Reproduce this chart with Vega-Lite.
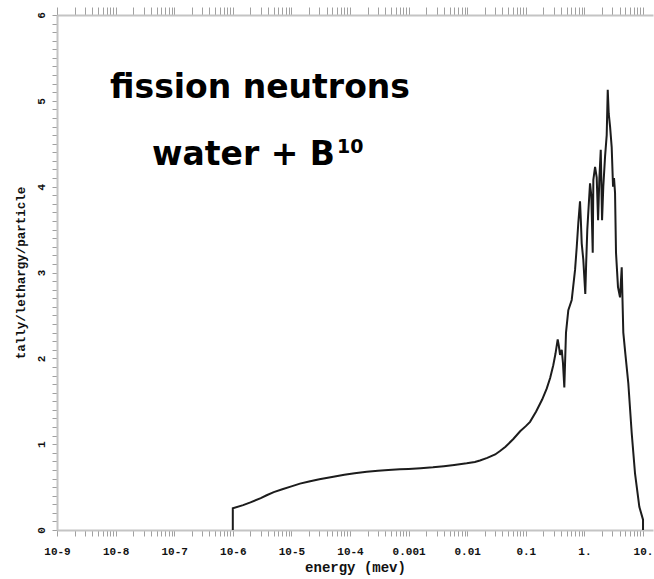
{
  "$schema": "https://vega.github.io/schema/vega-lite/v6.json",
  "width": 596,
  "height": 515,
  "autosize": {"type": "none"},
  "padding": {"left": 57, "top": 15, "right": 1, "bottom": 49},
  "background": "white",
  "config": {
    "view": {"stroke": null},
    "axis": {
      "domainColor": "#c4c4c4",
      "domainWidth": 2,
      "tickColor": "#a0a0a0",
      "tickWidth": 1,
      "grid": false,
      "labelFont": "Liberation Mono",
      "labelFontWeight": "bold",
      "labelFontSize": 11,
      "labelColor": "#111111",
      "titleFont": "Liberation Mono",
      "titleFontWeight": "bold",
      "titleColor": "#111111",
      "labelOverlap": false,
      "labelFlush": false
    },
    "axisY": {
      "labelAngle": 270,
      "labelPadding": 6,
      "tickSize": 5,
      "tickCount": 100,
      "titleFontSize": 12.5,
      "titlePadding": 8
    }
  },
  "datasets": {
    "spectrum": [
      {"i": 0, "energy": 1e-6, "tally": 0},
      {"i": 1, "energy": 1e-6, "tally": 0.253},
      {"i": 2, "energy": 1.5e-6, "tally": 0.29},
      {"i": 3, "energy": 2e-6, "tally": 0.322},
      {"i": 4, "energy": 3e-6, "tally": 0.372},
      {"i": 5, "energy": 3.78e-6, "tally": 0.405},
      {"i": 6, "energy": 5e-6, "tally": 0.442},
      {"i": 7, "energy": 7e-6, "tally": 0.474},
      {"i": 8, "energy": 1e-5, "tally": 0.508},
      {"i": 9, "energy": 1.4e-5, "tally": 0.54},
      {"i": 10, "energy": 2e-5, "tally": 0.566},
      {"i": 11, "energy": 3e-5, "tally": 0.592},
      {"i": 12, "energy": 5.2e-5, "tally": 0.621},
      {"i": 13, "energy": 8e-5, "tally": 0.644},
      {"i": 14, "energy": 1.2e-4, "tally": 0.661},
      {"i": 15, "energy": 1.93e-4, "tally": 0.679},
      {"i": 16, "energy": 3e-4, "tally": 0.69},
      {"i": 17, "energy": 4.5e-4, "tally": 0.699},
      {"i": 18, "energy": 7.1e-4, "tally": 0.707},
      {"i": 19, "energy": 1e-3, "tally": 0.712},
      {"i": 20, "energy": 1.6e-3, "tally": 0.72},
      {"i": 21, "energy": 2.6e-3, "tally": 0.73},
      {"i": 22, "energy": 4e-3, "tally": 0.744},
      {"i": 23, "energy": 6e-3, "tally": 0.758},
      {"i": 24, "energy": 9.8e-3, "tally": 0.777},
      {"i": 25, "energy": 0.0135, "tally": 0.792},
      {"i": 26, "energy": 0.0165, "tally": 0.81},
      {"i": 27, "energy": 0.022, "tally": 0.84},
      {"i": 28, "energy": 0.03, "tally": 0.88},
      {"i": 29, "energy": 0.0363, "tally": 0.92},
      {"i": 30, "energy": 0.045, "tally": 0.97},
      {"i": 31, "energy": 0.0612, "tally": 1.06},
      {"i": 32, "energy": 0.08, "tally": 1.15},
      {"i": 33, "energy": 0.1, "tally": 1.21},
      {"i": 34, "energy": 0.118, "tally": 1.26},
      {"i": 35, "energy": 0.15, "tally": 1.38},
      {"i": 36, "energy": 0.19, "tally": 1.52},
      {"i": 37, "energy": 0.228, "tally": 1.65},
      {"i": 38, "energy": 0.26, "tally": 1.77},
      {"i": 39, "energy": 0.294, "tally": 1.92},
      {"i": 40, "energy": 0.32, "tally": 2.05},
      {"i": 41, "energy": 0.35, "tally": 2.22},
      {"i": 42, "energy": 0.365, "tally": 2.15},
      {"i": 43, "energy": 0.384, "tally": 2.04},
      {"i": 44, "energy": 0.41, "tally": 2.1},
      {"i": 45, "energy": 0.43, "tally": 1.95},
      {"i": 46, "energy": 0.454, "tally": 1.66},
      {"i": 47, "energy": 0.47, "tally": 2.0},
      {"i": 48, "energy": 0.485, "tally": 2.3},
      {"i": 49, "energy": 0.531, "tally": 2.56},
      {"i": 50, "energy": 0.607, "tally": 2.68},
      {"i": 51, "energy": 0.692, "tally": 3.03},
      {"i": 52, "energy": 0.74, "tally": 3.3},
      {"i": 53, "energy": 0.787, "tally": 3.58},
      {"i": 54, "energy": 0.841, "tally": 3.83},
      {"i": 55, "energy": 0.87, "tally": 3.6},
      {"i": 56, "energy": 0.899, "tally": 3.34},
      {"i": 57, "energy": 0.957, "tally": 3.15},
      {"i": 58, "energy": 1.035, "tally": 2.75},
      {"i": 59, "energy": 1.07, "tally": 3.1},
      {"i": 60, "energy": 1.12, "tally": 3.5},
      {"i": 61, "energy": 1.2, "tally": 3.85},
      {"i": 62, "energy": 1.247, "tally": 4.04},
      {"i": 63, "energy": 1.31, "tally": 3.9},
      {"i": 64, "energy": 1.386, "tally": 3.23},
      {"i": 65, "energy": 1.42, "tally": 4.08},
      {"i": 66, "energy": 1.52, "tally": 4.23},
      {"i": 67, "energy": 1.62, "tally": 4.11},
      {"i": 68, "energy": 1.71, "tally": 3.61},
      {"i": 69, "energy": 1.8, "tally": 4.1},
      {"i": 70, "energy": 1.9, "tally": 4.43},
      {"i": 71, "energy": 2.0, "tally": 3.61},
      {"i": 72, "energy": 2.1, "tally": 4.0},
      {"i": 73, "energy": 2.25, "tally": 4.35},
      {"i": 74, "energy": 2.4, "tally": 4.6},
      {"i": 75, "energy": 2.5, "tally": 5.13},
      {"i": 76, "energy": 2.6, "tally": 4.85},
      {"i": 77, "energy": 2.74, "tally": 4.7},
      {"i": 78, "energy": 2.92, "tally": 4.46},
      {"i": 79, "energy": 3.08, "tally": 4.0},
      {"i": 80, "energy": 3.2, "tally": 4.1},
      {"i": 81, "energy": 3.33, "tally": 3.93},
      {"i": 82, "energy": 3.46, "tally": 3.23},
      {"i": 83, "energy": 3.74, "tally": 2.83},
      {"i": 84, "energy": 4.05, "tally": 2.71},
      {"i": 85, "energy": 4.33, "tally": 3.06},
      {"i": 86, "energy": 4.51, "tally": 2.56},
      {"i": 87, "energy": 4.61, "tally": 2.3},
      {"i": 88, "energy": 5.0, "tally": 2.05},
      {"i": 89, "energy": 5.61, "tally": 1.71},
      {"i": 90, "energy": 6.41, "tally": 1.13},
      {"i": 91, "energy": 7.3, "tally": 0.66},
      {"i": 92, "energy": 8.65, "tally": 0.27},
      {"i": 93, "energy": 10, "tally": 0.12},
      {"i": 94, "energy": 10, "tally": 0}
    ],
    "headline": [{"energy": 2.91e-6, "tally": 5.03, "text": "fission neutrons"}],
    "subline": [{"energy": 5.55e-5, "tally": 4.25, "text": "water + B"}],
    "superscript": [{"energy": 6.0e-5, "tally": 4.39, "text": "10"}]
  },
  "layer": [
    {
      "data": {"name": "spectrum"},
      "mark": {"type": "point", "opacity": 0},
      "encoding": {
        "x": {
          "field": "energy",
          "type": "quantitative",
          "scale": {"type": "log", "domain": [1e-9, 14.8], "nice": false},
          "axis": {
            "orient": "top",
            "title": null,
            "labels": false,
            "tickSize": 8,
            "tickCount": 200,
            "values": [1e-9, 2e-9, 3e-9, 4e-9, 5e-9, 6e-9, 7e-9, 8e-9, 9e-9,
                       1e-8, 2e-8, 3e-8, 4e-8, 5e-8, 6e-8, 7e-8, 8e-8, 9e-8,
                       1e-7, 2e-7, 3e-7, 4e-7, 5e-7, 6e-7, 7e-7, 8e-7, 9e-7,
                       1e-6, 2e-6, 3e-6, 4e-6, 5e-6, 6e-6, 7e-6, 8e-6, 9e-6,
                       1e-5, 2e-5, 3e-5, 4e-5, 5e-5, 6e-5, 7e-5, 8e-5, 9e-5,
                       1e-4, 2e-4, 3e-4, 4e-4, 5e-4, 6e-4, 7e-4, 8e-4, 9e-4,
                       1e-3, 2e-3, 3e-3, 4e-3, 5e-3, 6e-3, 7e-3, 8e-3, 9e-3,
                       0.01, 0.02, 0.03, 0.04, 0.05, 0.06, 0.07, 0.08, 0.09,
                       0.1, 0.2, 0.3, 0.4, 0.5, 0.6, 0.7, 0.8, 0.9,
                       1, 2, 3, 4, 5, 6, 7, 8, 9, 10]
          }
        },
        "y": {
          "field": "tally",
          "type": "quantitative",
          "scale": {"domain": [0, 6], "nice": false},
          "axis": {
            "orient": "left",
            "title": "tally/lethargy/particle",
            "tickCount": 100,
            "values": [0, 0.1, 0.2, 0.3, 0.4, 0.5, 0.6, 0.7, 0.8, 0.9,
                       1, 1.1, 1.2, 1.3, 1.4, 1.5, 1.6, 1.7, 1.8, 1.9,
                       2, 2.1, 2.2, 2.3, 2.4, 2.5, 2.6, 2.7, 2.8, 2.9,
                       3, 3.1, 3.2, 3.3, 3.4, 3.5, 3.6, 3.7, 3.8, 3.9,
                       4, 4.1, 4.2, 4.3, 4.4, 4.5, 4.6, 4.7, 4.8, 4.9,
                       5, 5.1, 5.2, 5.3, 5.4, 5.5, 5.6, 5.7, 5.8, 5.9, 6],
            "labelExpr": "abs(datum.value - round(datum.value)) < 0.001 ? format(datum.value, 'd') : ''"
          }
        }
      }
    },
    {
      "data": {"name": "spectrum"},
      "mark": {"type": "line", "color": "#1c1c1c", "strokeWidth": 2, "strokeJoin": "miter"},
      "encoding": {
        "x": {
          "field": "energy",
          "type": "quantitative",
          "axis": {
            "orient": "bottom",
            "title": "energy (mev)",
            "titleFontSize": 14,
            "titlePadding": 4,
            "tickCount": 200,
            "values": [1e-9, 2e-9, 3e-9, 4e-9, 5e-9, 6e-9, 7e-9, 8e-9, 9e-9,
                       1e-8, 2e-8, 3e-8, 4e-8, 5e-8, 6e-8, 7e-8, 8e-8, 9e-8,
                       1e-7, 2e-7, 3e-7, 4e-7, 5e-7, 6e-7, 7e-7, 8e-7, 9e-7,
                       1e-6, 2e-6, 3e-6, 4e-6, 5e-6, 6e-6, 7e-6, 8e-6, 9e-6,
                       1e-5, 2e-5, 3e-5, 4e-5, 5e-5, 6e-5, 7e-5, 8e-5, 9e-5,
                       1e-4, 2e-4, 3e-4, 4e-4, 5e-4, 6e-4, 7e-4, 8e-4, 9e-4,
                       1e-3, 2e-3, 3e-3, 4e-3, 5e-3, 6e-3, 7e-3, 8e-3, 9e-3,
                       0.01, 0.02, 0.03, 0.04, 0.05, 0.06, 0.07, 0.08, 0.09,
                       0.1, 0.2, 0.3, 0.4, 0.5, 0.6, 0.7, 0.8, 0.9,
                       1, 2, 3, 4, 5, 6, 7, 8, 9, 10],
            "labelExpr": "abs(log(datum.value)/LN10 - round(log(datum.value)/LN10)) < 0.001 ? ['10-9','10-8','10-7','10-6','10-5','10-4','0.001','0.01','0.1','1.','10.'][round(log(datum.value)/LN10) + 9] : ''",
            "labelBound": false,
            "tickSize": 6,
            "labelPadding": 9
          }
        },
        "y": {"field": "tally", "type": "quantitative"},
        "order": {"field": "i", "type": "quantitative"}
      }
    },
    {
      "data": {"name": "headline"},
      "mark": {"type": "text", "font": "DejaVu Sans", "fontWeight": "bold", "fontSize": 33, "align": "center", "baseline": "alphabetic", "color": "#000000"},
      "encoding": {
        "x": {"field": "energy", "type": "quantitative", "axis": null},
        "y": {"field": "tally", "type": "quantitative"},
        "text": {"field": "text"}
      }
    },
    {
      "data": {"name": "subline"},
      "mark": {"type": "text", "font": "DejaVu Sans", "fontWeight": "bold", "fontSize": 33, "align": "right", "baseline": "alphabetic", "color": "#000000"},
      "encoding": {
        "x": {"field": "energy", "type": "quantitative", "axis": null},
        "y": {"field": "tally", "type": "quantitative"},
        "text": {"field": "text"}
      }
    },
    {
      "data": {"name": "superscript"},
      "mark": {"type": "text", "font": "DejaVu Sans", "fontWeight": "bold", "fontSize": 19, "align": "left", "baseline": "alphabetic", "color": "#000000"},
      "encoding": {
        "x": {"field": "energy", "type": "quantitative", "axis": null},
        "y": {"field": "tally", "type": "quantitative"},
        "text": {"field": "text"}
      }
    }
  ],
  "resolve": {"axis": {"x": "independent"}}
}
